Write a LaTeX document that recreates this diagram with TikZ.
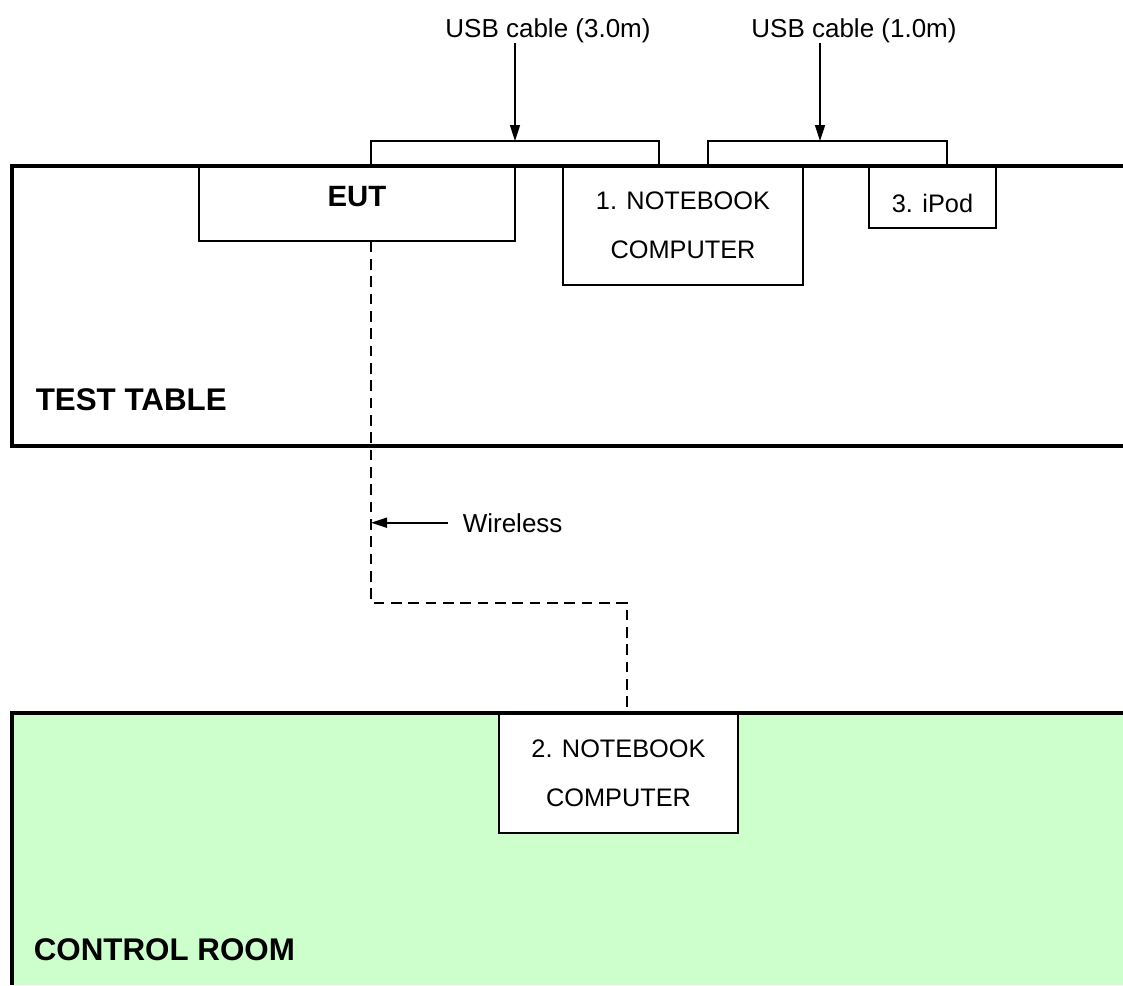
\documentclass[tikz,border=0pt]{standalone}
\usepackage{fontspec}
\setmainfont{Liberation Sans}
\usetikzlibrary{arrows.meta}
\definecolor{roomgreen}{HTML}{CCFFCC}

\begin{document}
\begin{tikzpicture}[x=0.75pt,y=-0.75pt,>={Triangle[length=12pt,width=7.5pt]},
		line width=1.2pt]
		\tikzstyle{every node}=[inner sep=0pt]
		\tikzstyle{box}=[draw,fill=white,align=center,font=\fontsize{19}{36.75}\selectfont]
		\tikzstyle{note}=[font=\fontsize{19.5}{23}\selectfont]
		\tikzstyle{area}=[font=\fontsize{23.5}{28}\selectfont\bfseries]
		\tikzstyle{wall}=[line width=3pt]
		\tikzstyle{radio}=[line width=2.1pt,dash pattern=on 8pt off 5pt]
		
		\useasboundingbox (0,0) rectangle (1123,985);
		\fill[roomgreen] (12,713) rectangle (1123,985);
		
		% devices
		\node[box,minimum width=237pt,minimum height=56.25pt,text depth=10.5pt,
		      font=\fontsize{22}{26}\selectfont\bfseries]      (eut)  at (357,203.5) {EUT};
		\node[box,minimum width=180pt,minimum height=89.25pt]  (nb1)  at (683,225.5) {1. NOTEBOOK\\COMPUTER};
		\node[box,minimum width=95.25pt,minimum height=46.5pt,
		      text height=23pt]                                (ipod) at (932.5,197) {3. iPod};
		\node[box,minimum width=179.25pt,minimum height=90pt]  (nb2)  at (618.5,773) {2. NOTEBOOK\\COMPUTER};
		
		% table and room
		\draw[wall] (1123,166) -- (12,166) -- (12,446) -- (1123,446);
		\draw[wall] (1123,713) -- (12,713) -- (12,985);
		\node[area,anchor=west] (table) at (35,400) {TEST TABLE};
		\node[area,anchor=west] (room)  at (33,950) {CONTROL ROOM};
		
		% cables
		\coordinate (c1) at (515,141);
		\coordinate (c2) at (820,141);
		\draw (371,166) |- (c1) -| (659,166);
		\draw (708,166) |- (c2) -| (947,166);
		\node[note,anchor=base] (usb1) at (548,37) {USB cable (3.0m)};
		\node[note,anchor=base] (usb2) at (854,37) {USB cable (1.0m)};
		\path[->] (usb1.south -| c1) edge (c1)
		          (usb2.south -| c2) edge (c2);
		
		% wireless link
		\coordinate (w1) at (371,603);
		\coordinate (w2) at (627,603);
		\draw[radio] (eut.south -| w1) -- (w1) -- (w2) -- (w2 |- nb2.north);
		\node[note,anchor=base west] (wl) at (462,532) {Wireless};
		\draw[->] ([xshift=-10.5pt]wl.west) -- (wl.west -| w1);
		
		\end{tikzpicture}
\end{document}
